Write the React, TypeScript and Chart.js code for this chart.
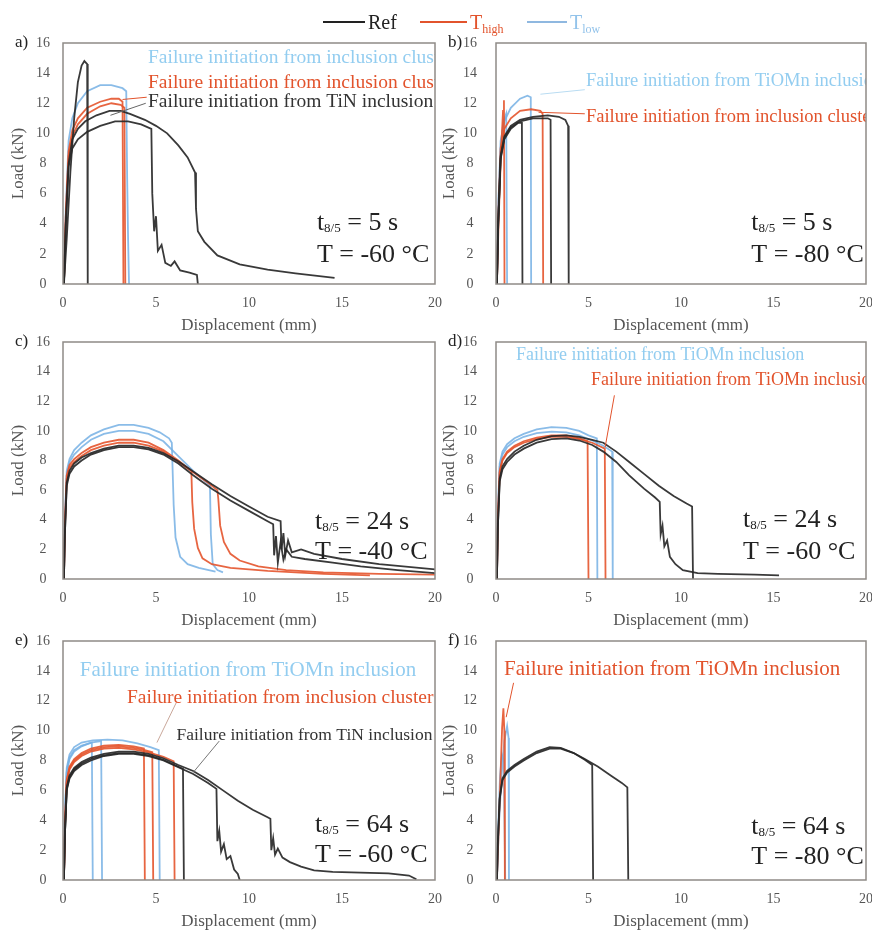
import React, { useEffect, useRef } from 'react';
import { Chart, registerables } from 'chart.js';
Chart.register(...registerables);

type Pt = [number, number];

// ---------- axis values ----------
const X_MIN = 0;
const X_MAX = 20;
const X_STEP = 5;
const Y_MIN = 0;
const Y_MAX = 16;
const Y_STEP = 2;
const X_TITLE = 'Displacement (mm)';
const Y_TITLE = 'Load (kN)';

// ---------- panel a) t8/5 = 5 s, T = -60 °C ----------
const aRef1: Pt[] = [[0.05, 0], [0.2, 3], [0.4, 7.5], [0.6, 11], [0.8, 13.4], [1.0, 14.5], [1.15, 14.8], [1.3, 14.6], [1.33, 0]];
const aRef2: Pt[] = [[0.05, 0], [0.15, 4], [0.3, 8], [0.5, 9.6], [0.8, 10.3], [1.2, 10.8], [1.8, 11.2], [2.5, 11.5], [3.1, 11.5], [3.6, 11.3], [4.4, 10.9], [5.0, 10.5], [5.6, 10.0], [6.2, 9.2], [6.7, 8.4], [7.1, 7.4], [7.15, 5], [7.25, 3.5], [7.6, 2.8], [8.3, 1.9], [9.5, 1.3], [11, 0.95], [12.5, 0.7], [14.6, 0.4]];
const aRef3: Pt[] = [[0.05, 0], [0.15, 4], [0.3, 7.8], [0.5, 9.0], [0.8, 9.6], [1.3, 10.1], [2, 10.5], [2.8, 10.8], [3.5, 10.8], [4.2, 10.6], [4.75, 10.3], [4.8, 6], [4.9, 3.5], [5.0, 4.5], [5.1, 2.2], [5.3, 2.6], [5.5, 1.4], [5.8, 1.2], [6.0, 1.5], [6.3, 0.9], [6.8, 0.75], [7.2, 0.6], [7.25, 0]];
const aHigh1: Pt[] = [[0.05, 0], [0.15, 4.5], [0.3, 8.8], [0.5, 10.2], [0.8, 11.0], [1.3, 11.7], [2, 12.1], [2.6, 12.3], [3.0, 12.3], [3.2, 12.1], [3.25, 0]];
const aHigh2: Pt[] = [[0.05, 0], [0.15, 4.5], [0.3, 8.5], [0.5, 9.8], [0.8, 10.6], [1.3, 11.3], [2, 11.8], [2.6, 12.0], [3.1, 11.9], [3.3, 11.7], [3.35, 0]];
const aLow1: Pt[] = [[0.05, 0], [0.15, 5], [0.3, 9.5], [0.5, 11], [0.8, 12], [1.3, 12.8], [2, 13.2], [2.6, 13.2], [3.2, 13.0], [3.4, 12.8], [3.45, 7], [3.5, 3], [3.55, 0]];

// ---------- panel b) t8/5 = 5 s, T = -80 °C ----------
const bRef1: Pt[] = [[0.05, 0], [0.12, 4], [0.25, 8.5], [0.45, 9.8], [0.8, 10.5], [1.3, 10.9], [2, 11.1], [2.8, 11.2], [3.4, 11.1], [3.75, 10.9], [3.9, 10.5], [3.93, 0]];
const bRef2: Pt[] = [[0.05, 0], [0.12, 4], [0.25, 8.3], [0.45, 9.6], [0.8, 10.3], [1.2, 10.7], [1.4, 10.7], [1.43, 0]];
const bRef3: Pt[] = [[0.05, 0], [0.12, 4], [0.25, 8.4], [0.45, 9.7], [0.8, 10.4], [1.3, 10.8], [2, 11.0], [2.8, 11.0], [2.95, 10.9], [2.98, 0]];
const bHigh1: Pt[] = [[0.05, 0], [0.15, 4.5], [0.28, 9], [0.38, 11.5], [0.43, 12.2], [0.46, 0]];
const bHigh2: Pt[] = [[0.05, 0], [0.12, 4.5], [0.25, 9], [0.45, 10.3], [0.8, 11.0], [1.3, 11.5], [1.9, 11.6], [2.4, 11.5], [2.52, 11.3], [2.55, 0]];
const bLow1: Pt[] = [[0.05, 0], [0.12, 5], [0.25, 9.5], [0.45, 10.8], [0.8, 11.7], [1.3, 12.3], [1.7, 12.5], [1.88, 12.4], [1.9, 0]];
const bLow2: Pt[] = [[0.05, 0], [0.12, 5], [0.25, 9], [0.4, 10.8], [0.55, 11.3], [0.6, 0]];

// ---------- panel c) t8/5 = 24 s, T = -40 °C ----------
const cRef1: Pt[] = [[0.05, 0], [0.1, 3], [0.2, 6.3], [0.35, 7.1], [0.6, 7.6], [1, 8.0], [1.5, 8.4], [2.2, 8.7], [3, 8.9], [3.8, 8.9], [4.6, 8.75], [5.4, 8.4], [6.2, 7.8], [7, 7.0], [8, 6.1], [9, 5.3], [10, 4.6], [11, 3.9], [11.3, 3.7], [11.35, 1.6], [11.45, 2.9], [11.55, 1.1], [11.7, 2.5], [11.85, 1.3], [12.0, 2.0], [12.3, 1.5], [13, 1.35], [14.5, 1.1], [16, 0.85], [18, 0.6], [20, 0.4]];
const cRef2: Pt[] = [[0.05, 0], [0.1, 3], [0.2, 6.5], [0.35, 7.3], [0.6, 7.8], [1, 8.2], [1.5, 8.5], [2.2, 8.8], [3, 9.0], [3.8, 9.0], [4.6, 8.85], [5.4, 8.5], [6.2, 7.95], [7, 7.25], [8, 6.4], [9, 5.6], [10, 4.9], [11, 4.2], [11.7, 3.9], [11.75, 2.0], [11.85, 3.1], [11.95, 1.6], [12.1, 2.6], [12.3, 1.8], [12.8, 2.0], [13.5, 1.7], [15, 1.35], [17, 1.0], [20, 0.65]];
const cHigh1: Pt[] = [[0.05, 0], [0.1, 3.5], [0.2, 7.0], [0.35, 7.7], [0.6, 8.1], [1, 8.5], [1.5, 8.9], [2.2, 9.2], [3, 9.4], [3.8, 9.4], [4.6, 9.2], [5.4, 8.7], [6.2, 8.0], [6.9, 7.3], [6.95, 5.2], [7.05, 3.4], [7.25, 2.1], [7.5, 1.4], [8, 1.0], [9, 0.75], [11, 0.55], [14, 0.35], [16.5, 0.25]];
const cHigh2: Pt[] = [[0.05, 0], [0.1, 3.5], [0.2, 6.8], [0.35, 7.5], [0.6, 7.9], [1, 8.3], [1.5, 8.7], [2.2, 9.0], [3, 9.2], [3.8, 9.2], [4.6, 9.0], [5.4, 8.6], [6.2, 7.9], [7, 7.2], [7.8, 6.5], [8.3, 6.0], [8.35, 5.4], [8.45, 3.6], [8.65, 2.5], [9, 1.7], [9.5, 1.25], [10.5, 0.85], [12, 0.6], [14, 0.45], [17, 0.35], [20, 0.3]];
const cLow1: Pt[] = [[0.05, 0], [0.1, 4], [0.2, 7.3], [0.35, 8.1], [0.6, 8.7], [1, 9.2], [1.5, 9.7], [2.2, 10.1], [3, 10.4], [3.8, 10.4], [4.6, 10.2], [5.2, 9.9], [5.7, 9.5], [5.85, 9.2], [5.95, 5], [6.05, 2.8], [6.3, 1.5], [6.7, 1.0], [7.3, 0.75], [8.2, 0.5]];
const cLow2: Pt[] = [[0.05, 0], [0.1, 3.8], [0.2, 7.0], [0.35, 7.9], [0.6, 8.4], [1, 8.9], [1.5, 9.4], [2.2, 9.8], [3, 10.0], [3.8, 10.0], [4.6, 9.8], [5.4, 9.3], [6.2, 8.3], [7, 7.3], [7.9, 6.3], [7.95, 3], [8.05, 1.0], [8.3, 0.6], [8.6, 0.45]];

// ---------- panel d) t8/5 = 24 s, T = -60 °C ----------
const dRef1: Pt[] = [[0.05, 0], [0.1, 3.5], [0.2, 6.8], [0.35, 7.6], [0.6, 8.1], [1, 8.6], [1.5, 9.0], [2.2, 9.4], [3, 9.65], [3.8, 9.7], [4.5, 9.6], [5.2, 9.4], [5.8, 9.2], [6.5, 8.6], [7.2, 7.9], [8, 7.1], [8.8, 6.3], [9.6, 5.6], [10.3, 5.1], [10.6, 4.9], [10.65, 0]];
const dRef2: Pt[] = [[0.05, 0], [0.1, 3.5], [0.2, 6.6], [0.35, 7.4], [0.6, 7.9], [1, 8.4], [1.5, 8.8], [2.2, 9.2], [3, 9.45], [3.8, 9.5], [4.5, 9.35], [5.2, 9.05], [5.8, 8.6], [6.5, 7.9], [7.2, 7.0], [8, 6.1], [8.6, 5.5], [8.85, 5.2], [8.9, 3.0], [9.0, 3.6], [9.1, 2.2], [9.25, 2.6], [9.4, 1.5], [9.7, 1.0], [10.1, 0.6], [10.9, 0.4], [12, 0.35], [14, 0.3], [15.3, 0.25]];
const dHigh1: Pt[] = [[0.05, 0], [0.1, 4], [0.2, 7.3], [0.35, 8.1], [0.6, 8.6], [1, 9.0], [1.5, 9.3], [2.2, 9.55], [3, 9.7], [3.8, 9.7], [4.5, 9.5], [4.95, 9.3], [5.0, 0]];
const dHigh2: Pt[] = [[0.05, 0], [0.1, 4], [0.2, 7.2], [0.35, 8.0], [0.6, 8.5], [1, 8.9], [1.5, 9.2], [2.2, 9.45], [3, 9.6], [3.8, 9.6], [4.5, 9.45], [5.2, 9.2], [5.88, 8.8], [5.92, 0]];
const dLow1: Pt[] = [[0.05, 0], [0.1, 4.5], [0.2, 7.8], [0.35, 8.6], [0.6, 9.1], [1, 9.5], [1.5, 9.8], [2.2, 10.1], [3, 10.25], [3.8, 10.2], [4.5, 10.0], [5.0, 9.7], [5.45, 9.5], [5.48, 0]];
const dLow2: Pt[] = [[0.05, 0], [0.1, 4.3], [0.2, 7.6], [0.35, 8.4], [0.6, 8.9], [1, 9.3], [1.5, 9.6], [2.2, 9.85], [3, 9.95], [3.8, 9.9], [4.5, 9.7], [5.2, 9.35], [5.8, 9.0], [6.28, 8.6], [6.31, 0]];

// ---------- panel e) t8/5 = 64 s, T = -60 °C ----------
const eRef1: Pt[] = [[0.05, 0], [0.1, 3], [0.2, 6.2], [0.35, 7.0], [0.6, 7.5], [1, 7.9], [1.5, 8.2], [2.2, 8.45], [3, 8.6], [3.8, 8.6], [4.6, 8.45], [5.4, 8.15], [6.2, 7.7], [7, 7.3], [7.8, 6.7], [8.6, 6.0], [9.4, 5.3], [10.2, 4.7], [11, 4.2], [11.15, 4.1], [11.2, 2.0], [11.3, 2.8], [11.4, 1.7], [11.55, 2.1], [11.8, 1.5], [12.2, 1.2], [12.8, 0.9], [13.5, 0.65], [14.5, 0.55], [16, 0.5], [17.5, 0.45], [18.6, 0.3], [19, 0.05]];
const eRef2: Pt[] = [[0.05, 0], [0.1, 3], [0.2, 6.0], [0.35, 6.8], [0.6, 7.3], [1, 7.7], [1.5, 8.0], [2.2, 8.3], [3, 8.45], [3.8, 8.45], [4.6, 8.3], [5.4, 8.0], [6.2, 7.55], [7, 7.1], [7.8, 6.5], [8.25, 6.1], [8.3, 2.6], [8.4, 3.3], [8.5, 1.9], [8.65, 2.4], [8.8, 1.4], [9.0, 1.6], [9.2, 0.7], [9.4, 0.4], [9.5, 0]];
const eRef3: Pt[] = [[0.05, 0], [0.1, 3], [0.2, 6.1], [0.35, 6.9], [0.6, 7.4], [1, 7.8], [1.5, 8.1], [2.2, 8.35], [3, 8.5], [3.8, 8.5], [4.6, 8.35], [5.4, 8.05], [6.0, 7.7], [6.45, 7.45], [6.5, 0]];
const eHigh1: Pt[] = [[0.05, 0], [0.1, 3.5], [0.2, 6.7], [0.35, 7.6], [0.6, 8.1], [1, 8.5], [1.5, 8.8], [2.2, 9.0], [3, 9.05], [3.8, 8.95], [4.35, 8.8], [4.4, 0]];
const eHigh2: Pt[] = [[0.05, 0], [0.1, 3.5], [0.2, 6.6], [0.35, 7.5], [0.6, 8.0], [1, 8.4], [1.5, 8.7], [2.2, 8.9], [3, 8.95], [3.8, 8.85], [4.4, 8.7], [4.8, 8.55], [4.85, 0]];
const eHigh3: Pt[] = [[0.05, 0], [0.1, 3.4], [0.2, 6.5], [0.35, 7.4], [0.6, 7.9], [1, 8.3], [1.5, 8.6], [2.2, 8.8], [3, 8.85], [3.8, 8.75], [4.6, 8.55], [5.4, 8.25], [5.95, 7.95], [6.0, 0]];
const eLow1: Pt[] = [[0.05, 0], [0.1, 4], [0.2, 7.3], [0.35, 8.2], [0.6, 8.7], [1, 9.0], [1.55, 9.2], [1.6, 0]];
const eLow2: Pt[] = [[0.05, 0], [0.1, 4], [0.2, 7.2], [0.35, 8.1], [0.6, 8.6], [1, 8.95], [1.5, 9.2], [2.05, 9.3], [2.1, 0]];
const eLow3: Pt[] = [[0.05, 0], [0.1, 4.2], [0.2, 7.5], [0.35, 8.4], [0.6, 8.9], [1, 9.2], [1.6, 9.35], [2.4, 9.4], [3.2, 9.35], [4, 9.15], [4.7, 8.9], [5.15, 8.7], [5.2, 0]];

// ---------- panel f) t8/5 = 64 s, T = -80 °C ----------
const fRef1: Pt[] = [[0.05, 0], [0.1, 2.5], [0.2, 5.5], [0.35, 6.8], [0.6, 7.3], [1, 7.7], [1.5, 8.1], [2.2, 8.6], [2.9, 8.9], [3.5, 8.85], [4.2, 8.5], [4.8, 8.05], [5.2, 7.7], [5.25, 0]];
const fRef2: Pt[] = [[0.05, 0], [0.1, 2.5], [0.2, 5.4], [0.35, 6.7], [0.6, 7.2], [1, 7.6], [1.5, 8.0], [2.2, 8.5], [2.9, 8.8], [3.5, 8.8], [4.2, 8.5], [4.8, 8.1], [5.5, 7.6], [6.2, 7.0], [6.8, 6.5], [7.1, 6.2], [7.15, 0]];
const fHigh1: Pt[] = [[0.05, 0], [0.15, 3.5], [0.25, 7.2], [0.33, 10.2], [0.4, 11.5], [0.45, 10], [0.48, 0]];
const fLow1: Pt[] = [[0.05, 0], [0.15, 3.5], [0.3, 7], [0.45, 9.3], [0.6, 10.3], [0.68, 9.5], [0.7, 0]];
const fLow2: Pt[] = [[0.05, 0], [0.12, 3.5], [0.22, 7.0], [0.32, 8.4], [0.42, 8.0], [0.5, 0]];

// ---------- colours ----------
const C_REF = 'rgba(40,40,40,0.92)';
const C_HIGH = 'rgba(228,84,44,0.9)';
const C_LOW = 'rgba(118,176,228,0.85)';
const T_REF = '#333333';
const T_HIGH = '#e2532c';
const T_LOW = '#93cdf0';
const FONT = '"Liberation Serif", "Times New Roman", serif';

interface Note { x: number; y: number; text: string; color: string; size: number }
interface Leader { x1: number; y1: number; x2: number; y2: number; color: string }
interface Panel {
  id: string; label: string; col: number; row: number;
  ref: Pt[][]; high: Pt[][]; low: Pt[][];
  notes: Note[]; leaders: Leader[];
  t85: string; temp: string; condX: number; condY1: number; condY2: number;
}

const PANELS: Panel[] = [
  {
    id: 'a', label: 'a)', col: 0, row: 0, ref: [aRef1, aRef2, aRef3], high: [aHigh1, aHigh2], low: [aLow1],
    notes: [
      { x: 4.57, y: 15.0, text: 'Failure initiation from inclusion cluster', color: T_LOW, size: 19.5 },
      { x: 4.57, y: 13.35, text: 'Failure initiation from inclusion cluster', color: T_HIGH, size: 19.5 },
      { x: 4.57, y: 12.1, text: 'Failure initiation from TiN inclusion', color: T_REF, size: 19.5 },
    ],
    leaders: [
      { x1: 4.5, y1: 12.4, x2: 3.2, y2: 12.25, color: T_HIGH },
      { x1: 4.45, y1: 12.0, x2: 2.55, y2: 11.2, color: '#666' },
    ],
    t85: '5', temp: '-60', condX: 13.65, condY1: 4.05, condY2: 1.93,
  },
  {
    id: 'b', label: 'b)', col: 1, row: 0, ref: [bRef1, bRef2, bRef3], high: [bHigh1, bHigh2], low: [bLow1, bLow2],
    notes: [
      { x: 4.86, y: 13.5, text: 'Failure initiation from TiOMn inclusion', color: T_LOW, size: 18.5 },
      { x: 4.86, y: 11.1, text: 'Failure initiation from inclusion cluster', color: T_HIGH, size: 18.5 },
    ],
    leaders: [
      { x1: 4.8, y1: 11.3, x2: 2.3, y2: 11.4, color: T_HIGH },
      { x1: 4.8, y1: 12.9, x2: 2.4, y2: 12.6, color: '#b9dcf2' },
    ],
    t85: '5', temp: '-80', condX: 13.8, condY1: 4.05, condY2: 1.93,
  },
  {
    id: 'c', label: 'c)', col: 0, row: 1, ref: [cRef1, cRef2], high: [cHigh1, cHigh2], low: [cLow1, cLow2],
    notes: [], leaders: [],
    t85: '24', temp: '-40', condX: 13.55, condY1: 3.85, condY2: 1.82,
  },
  {
    id: 'd', label: 'd)', col: 1, row: 1, ref: [dRef1, dRef2], high: [dHigh1, dHigh2], low: [dLow1, dLow2],
    notes: [
      { x: 1.08, y: 15.1, text: 'Failure initiation from TiOMn inclusion', color: T_LOW, size: 18 },
      { x: 5.14, y: 13.45, text: 'Failure initiation from TiOMn inclusion', color: T_HIGH, size: 18 },
    ],
    leaders: [{ x1: 6.4, y1: 12.4, x2: 5.9, y2: 8.9, color: T_HIGH }],
    t85: '24', temp: '-60', condX: 13.35, condY1: 4.0, condY2: 1.82,
  },
  {
    id: 'e', label: 'e)', col: 0, row: 2, ref: [eRef1, eRef2, eRef3], high: [eHigh1, eHigh2, eHigh3], low: [eLow1, eLow2, eLow3],
    notes: [
      { x: 0.9, y: 14.0, text: 'Failure initiation from TiOMn inclusion', color: T_LOW, size: 21 },
      { x: 3.44, y: 12.2, text: 'Failure initiation from inclusion cluster', color: T_HIGH, size: 19.5 },
      { x: 6.1, y: 9.7, text: 'Failure initiation from TiN inclusion', color: T_REF, size: 17.5 },
    ],
    leaders: [
      { x1: 6.1, y1: 11.9, x2: 5.05, y2: 9.2, color: '#c9a79a' },
      { x1: 8.4, y1: 9.3, x2: 7.0, y2: 7.2, color: '#777' },
    ],
    t85: '64', temp: '-60', condX: 13.55, condY1: 3.7, condY2: 1.68,
  },
  {
    id: 'f', label: 'f)', col: 1, row: 2, ref: [fRef1, fRef2], high: [fHigh1], low: [fLow1, fLow2],
    notes: [{ x: 0.43, y: 14.1, text: 'Failure initiation from TiOMn inclusion', color: T_HIGH, size: 21 }],
    leaders: [{ x1: 0.95, y1: 13.2, x2: 0.55, y2: 10.9, color: T_HIGH }],
    t85: '64', temp: '-80', condX: 13.8, condY1: 3.56, condY2: 1.54,
  },
];

// ---------- layout ----------
const COLS = [
  { left: 0, width: 460, areaLeft: 63, areaRight: 435, yTickPad: 13, yTitlePad: 8, labelX: 15 },
  { left: 436, width: 436, areaLeft: 496, areaRight: 866, yTickPad: 19, yTitlePad: 3, labelX: 448 },
];
const ROWS = [
  { top: 43, bottom: 284 },
  { top: 342, bottom: 579 },
  { top: 641, bottom: 880 },
];
const PAD_TOP = 30;
const X_AXIS_H = 52;

function geom(p: Panel) {
  const c = COLS[p.col];
  const r = ROWS[p.row];
  return {
    left: c.left,
    top: r.top - PAD_TOP,
    w: c.width,
    h: PAD_TOP + (r.bottom - r.top) + X_AXIS_H,
  };
}

function drawRich(ctx: CanvasRenderingContext2D, x: number, y: number, parts: { t: string; size: number; dy: number }[], color: string) {
  let cx = x;
  ctx.fillStyle = color;
  ctx.textBaseline = 'middle';
  ctx.textAlign = 'left';
  for (const part of parts) {
    ctx.font = `${part.size}px ${FONT}`;
    ctx.fillText(part.t, cx, y + part.dy);
    cx += ctx.measureText(part.t).width;
  }
}

function makePlugin(p: Panel) {
  const col = COLS[p.col];
  return {
    id: 'notes_' + p.id,
    afterDatasetsDraw(chart: any) {
      const { ctx, chartArea } = chart;
      const xs = chart.scales.x;
      const ys = chart.scales.y;
      ctx.save();
      ctx.beginPath();
      ctx.rect(chartArea.left, chartArea.top, chartArea.right - chartArea.left, chartArea.bottom - chartArea.top);
      ctx.clip();
      for (const l of p.leaders) {
        ctx.strokeStyle = l.color;
        ctx.lineWidth = 1;
        ctx.beginPath();
        ctx.moveTo(xs.getPixelForValue(l.x1), ys.getPixelForValue(l.y1));
        ctx.lineTo(xs.getPixelForValue(l.x2), ys.getPixelForValue(l.y2));
        ctx.stroke();
      }
      for (const n of p.notes) {
        ctx.font = `${n.size}px ${FONT}`;
        ctx.fillStyle = n.color;
        ctx.textAlign = 'left';
        ctx.textBaseline = 'middle';
        ctx.fillText(n.text, xs.getPixelForValue(n.x), ys.getPixelForValue(n.y));
      }
      const cx = xs.getPixelForValue(p.condX);
      drawRich(ctx, cx, ys.getPixelForValue(p.condY1), [
        { t: 't', size: 26, dy: 0 },
        { t: '8/5', size: 13, dy: 6 },
        { t: ` = ${p.t85} s`, size: 26, dy: 0 },
      ], '#222');
      drawRich(ctx, cx, ys.getPixelForValue(p.condY2), [
        { t: `T = ${p.temp} °C`, size: 26, dy: 0 },
      ], '#222');
      ctx.restore();
    },
    afterDraw(chart: any) {
      const { ctx, chartArea } = chart;
      ctx.save();
      ctx.strokeStyle = '#8f8a86';
      ctx.lineWidth = 1.5;
      ctx.strokeRect(chartArea.left, chartArea.top, chartArea.right - chartArea.left, chartArea.bottom - chartArea.top);
      ctx.font = `17px ${FONT}`;
      ctx.fillStyle = '#222';
      ctx.textAlign = 'left';
      ctx.textBaseline = 'middle';
      ctx.fillText(p.label, col.labelX - col.left, chartArea.top);
      ctx.restore();
    },
  };
}

function buildConfig(p: Panel): any {
  const col = COLS[p.col];
  const mk = (pts: Pt[], color: string) => ({
    data: pts.map(([x, y]) => ({ x, y })),
    borderColor: color,
    borderWidth: 1.8,
    pointRadius: 0,
    tension: 0,
    fill: false,
  });
  const datasets = [
    ...p.ref.map((s) => mk(s, C_REF)),
    ...p.high.map((s) => mk(s, C_HIGH)),
    ...p.low.map((s) => mk(s, C_LOW)),
  ];
  return {
    type: 'line',
    data: { datasets },
    options: {
      animation: false,
      responsive: false,
      maintainAspectRatio: false,
      layout: { padding: { left: 0, right: col.left + col.width - col.areaRight, top: PAD_TOP, bottom: 0 } },
      plugins: { legend: { display: false }, tooltip: { enabled: false } },
      scales: {
        x: {
          type: 'linear', min: X_MIN, max: X_MAX,
          ticks: { stepSize: X_STEP, padding: 11, color: '#555', font: { family: FONT, size: 14 } },
          grid: { display: false, drawTicks: false },
          border: { display: false },
          title: { display: true, text: X_TITLE, color: '#555', font: { family: FONT, size: 17 }, padding: { top: 0, bottom: 0 } },
          afterFit: (s: any) => { s.height = X_AXIS_H; s.paddingLeft = 0; s.paddingRight = 0; },
        },
        y: {
          type: 'linear', min: Y_MIN, max: Y_MAX,
          ticks: { stepSize: Y_STEP, padding: col.yTickPad, crossAlign: 'center', color: '#555', font: { family: FONT, size: 14 } },
          grid: { display: false, drawTicks: false },
          border: { display: false },
          title: { display: true, text: Y_TITLE, color: '#555', font: { family: FONT, size: 17 }, padding: { top: col.yTitlePad, bottom: 0 } },
          afterFit: (s: any) => { s.width = col.areaLeft - col.left; },
        },
      },
    },
    plugins: [makePlugin(p)],
  };
}

function Legend() {
  const line = (left: number, width: number, color: string) => (
    <div style={{ position: 'absolute', left, top: 21, width, height: 2, background: color }} />
  );
  const txt: React.CSSProperties = { position: 'absolute', top: 9, fontSize: 20, lineHeight: '26px', fontFamily: FONT, whiteSpace: 'nowrap' };
  return (
    <>
      {line(323, 42, '#222')}
      <span style={{ ...txt, left: 368, color: '#222' }}>Ref</span>
      {line(420, 47, '#e2532c')}
      <span style={{ ...txt, left: 470, color: '#e2532c' }}>T<span style={{ fontSize: 12, position: 'relative', top: 4 }}>high</span></span>
      {line(527, 40, '#8fb8e0')}
      <span style={{ ...txt, left: 570, color: '#93c3ea' }}>T<span style={{ fontSize: 12, position: 'relative', top: 4 }}>low</span></span>
    </>
  );
}

export default function App() {
  const refs = useRef<(HTMLCanvasElement | null)[]>([]);
  useEffect(() => {
    document.body.style.margin = '0';
    const charts = PANELS.map((p, i) => new Chart(refs.current[i] as HTMLCanvasElement, buildConfig(p)));
    return () => charts.forEach((c) => c.destroy());
  }, []);
  return (
    <div style={{ position: 'absolute', left: 0, top: 0, width: 872, height: 932, background: '#fff', overflow: 'hidden' }}>
      {PANELS.map((p, i) => {
        const g = geom(p);
        return (
          <canvas
            key={p.id}
            ref={(el) => { refs.current[i] = el; }}
            width={g.w}
            height={g.h}
            style={{ position: 'absolute', left: g.left, top: g.top, width: g.w, height: g.h }}
          />
        );
      })}
      <Legend />
    </div>
  );
}
